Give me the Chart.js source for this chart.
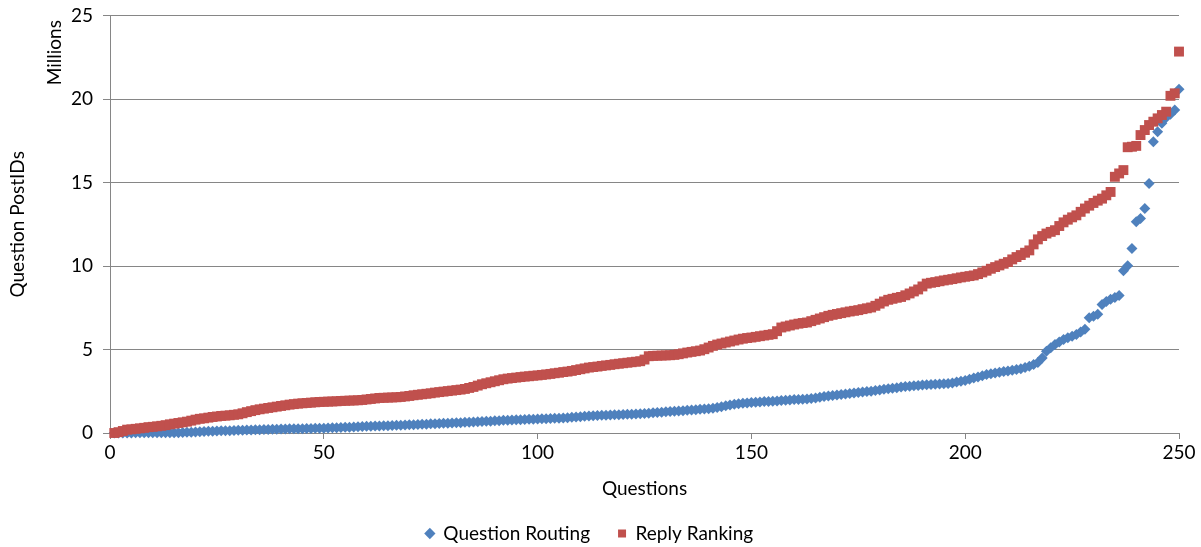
<!DOCTYPE html>
<html>
<head>
<meta charset="utf-8">
<script src="https://cdn.jsdelivr.net/npm/chart.js@4.4.1/dist/chart.umd.min.js"></script>
<style>
html, body { margin: 0; padding: 0; background: #fff; }
</style>
</head>
<body>
<canvas id="chart" width="1201" height="547"></canvas>
<script>
// question index runs 1..250, values in millions
const question_routing = [
    0.00, 0.00, 0.00, 0.00, 0.00, 0.01, 0.01, 0.01, 0.01, 0.01,
    0.01, 0.01, 0.02, 0.02, 0.02, 0.02, 0.03, 0.04, 0.05, 0.06,
    0.08, 0.09, 0.10, 0.11, 0.12, 0.13, 0.14, 0.14, 0.15, 0.16,
    0.17, 0.18, 0.18, 0.19, 0.20, 0.21, 0.21, 0.22, 0.23, 0.24,
    0.24, 0.25, 0.25, 0.26, 0.26, 0.27, 0.27, 0.28, 0.28, 0.29,
    0.30, 0.31, 0.32, 0.33, 0.34, 0.35, 0.36, 0.38, 0.39, 0.40,
    0.41, 0.42, 0.42, 0.43, 0.44, 0.45, 0.46, 0.47, 0.48, 0.49,
    0.50, 0.51, 0.52, 0.53, 0.55, 0.56, 0.57, 0.58, 0.59, 0.60,
    0.61, 0.62, 0.64, 0.65, 0.66, 0.67, 0.69, 0.70, 0.71, 0.73,
    0.74, 0.76, 0.77, 0.78, 0.79, 0.80, 0.81, 0.82, 0.83, 0.84,
    0.85, 0.86, 0.87, 0.88, 0.89, 0.90, 0.92, 0.94, 0.96, 0.98,
    1.00, 1.02, 1.03, 1.05, 1.06, 1.07, 1.08, 1.09, 1.10, 1.11,
    1.12, 1.13, 1.14, 1.15, 1.17, 1.19, 1.21, 1.23, 1.25, 1.27,
    1.29, 1.30, 1.32, 1.34, 1.36, 1.38, 1.40, 1.42, 1.44, 1.46,
    1.49, 1.53, 1.58, 1.63, 1.68, 1.72, 1.75, 1.78, 1.80, 1.82,
    1.84, 1.86, 1.88, 1.89, 1.90, 1.92, 1.94, 1.96, 1.98, 2.00,
    2.01, 2.02, 2.04, 2.07, 2.10, 2.14, 2.18, 2.21, 2.24, 2.27,
    2.30, 2.33, 2.36, 2.39, 2.42, 2.45, 2.48, 2.50, 2.54, 2.58,
    2.62, 2.65, 2.68, 2.71, 2.75, 2.78, 2.80, 2.83, 2.85, 2.88,
    2.89, 2.90, 2.92, 2.94, 2.95, 2.96, 3.00, 3.05, 3.10, 3.15,
    3.22, 3.29, 3.36, 3.43, 3.50, 3.55, 3.60, 3.64, 3.68, 3.72,
    3.76, 3.80, 3.85, 3.92, 4.00, 4.10, 4.22, 4.50, 4.90, 5.10,
    5.30, 5.45, 5.60, 5.70, 5.80, 5.90, 6.05, 6.22, 6.90, 7.00,
    7.12, 7.70, 7.88, 8.02, 8.12, 8.24, 9.72, 10.02, 11.05, 12.65,
    12.85, 13.45, 14.95, 17.45, 18.05, 18.55, 18.90, 19.10, 19.35, 20.60
];
const reply_ranking = [
    0.00, 0.05, 0.12, 0.20, 0.22, 0.25, 0.28, 0.31, 0.35, 0.37,
    0.40, 0.43, 0.47, 0.52, 0.56, 0.60, 0.64, 0.68, 0.74, 0.80,
    0.85, 0.88, 0.92, 0.96, 0.99, 1.02, 1.04, 1.06, 1.09, 1.12,
    1.18, 1.25, 1.31, 1.37, 1.42, 1.46, 1.50, 1.54, 1.58, 1.62,
    1.66, 1.70, 1.73, 1.76, 1.78, 1.80, 1.82, 1.84, 1.86, 1.87,
    1.88, 1.89, 1.90, 1.92, 1.93, 1.94, 1.95, 1.96, 1.98, 2.01,
    2.04, 2.07, 2.10, 2.11, 2.12, 2.13, 2.14, 2.16, 2.19, 2.22,
    2.26, 2.29, 2.32, 2.35, 2.38, 2.42, 2.45, 2.48, 2.51, 2.54,
    2.57, 2.60, 2.64, 2.70, 2.76, 2.84, 2.92, 2.98, 3.04, 3.10,
    3.16, 3.22, 3.26, 3.29, 3.32, 3.35, 3.38, 3.40, 3.43, 3.45,
    3.48, 3.51, 3.54, 3.58, 3.61, 3.65, 3.68, 3.72, 3.77, 3.82,
    3.87, 3.92, 3.95, 3.98, 4.02, 4.05, 4.08, 4.12, 4.15, 4.18,
    4.21, 4.24, 4.27, 4.30, 4.40, 4.60, 4.62, 4.63, 4.64, 4.65,
    4.66, 4.68, 4.72, 4.77, 4.82, 4.86, 4.90, 4.94, 5.02, 5.12,
    5.22, 5.30, 5.36, 5.42, 5.48, 5.54, 5.60, 5.65, 5.69, 5.72,
    5.76, 5.80, 5.84, 5.88, 5.92, 6.10, 6.32, 6.38, 6.44, 6.50,
    6.55, 6.59, 6.62, 6.70, 6.78, 6.86, 6.94, 7.02, 7.08, 7.13,
    7.18, 7.23, 7.28, 7.32, 7.36, 7.42, 7.47, 7.52, 7.62, 7.75,
    7.88, 7.98, 8.04, 8.10, 8.15, 8.25, 8.36, 8.48, 8.60, 8.78,
    8.95, 9.00, 9.04, 9.09, 9.14, 9.18, 9.22, 9.27, 9.32, 9.36,
    9.40, 9.44, 9.52, 9.62, 9.72, 9.84, 9.94, 10.04, 10.14, 10.24,
    10.40, 10.54, 10.66, 10.80, 10.94, 11.30, 11.60, 11.80, 11.95, 12.05,
    12.15, 12.40, 12.62, 12.78, 12.92, 13.04, 13.25, 13.45, 13.62, 13.78,
    13.92, 14.04, 14.24, 14.44, 15.35, 15.55, 15.75, 17.12, 17.15, 17.20,
    17.85, 18.15, 18.45, 18.65, 18.85, 19.05, 19.25, 20.20, 20.35, 22.85
];
const x_ticks = [0, 50, 100, 150, 200, 250];
const y_ticks = [0, 5, 10, 15, 20, 25];

const font_family = "Lato, 'Open Sans', sans-serif";
const font_size = 19;
const grey = "#868686";

function to_points(values) {
    return values.map((v, i) => ({ x: i + 1, y: v }));
}

// Excel-style "Millions" display-unit label next to the y axis
const millions_label = {
    id: 'millions_label',
    afterDraw(chart) {
        const ctx = chart.ctx;
        ctx.save();
        ctx.translate(55, chart.chartArea.top + 37);
        ctx.rotate(-Math.PI / 2);
        ctx.font = font_size + "px " + font_family;
        ctx.fillStyle = "#000";
        ctx.textAlign = "center";
        ctx.textBaseline = "middle";
        ctx.fillText("Millions", 0, 0);
        ctx.restore();
    }
};

new Chart(document.getElementById("chart"), {
    type: 'scatter',
    data: {
        datasets: [{
            label: "Question Routing",
            data: to_points(question_routing),
            pointStyle: 'rectRot',
            pointRadius: 5.5,
            pointHoverRadius: 5.5,
            backgroundColor: "#4F81BD",
            borderColor: "#4F81BD",
            borderWidth: 0,
            order: 1,
            clip: false
        }, {
            label: "Reply Ranking",
            data: to_points(reply_ranking),
            pointStyle: 'rect',
            pointRadius: 7,
            pointHoverRadius: 7,
            backgroundColor: "#C0504D",
            borderColor: "#C0504D",
            borderWidth: 0,
            order: 0,
            clip: false
        }]
    },
    options: {
        responsive: false,
        animation: false,
        layout: { padding: { top: 12, right: 22, left: 0, bottom: -6 } },
        scales: {
            x: {
                type: 'linear',
                min: 0,
                max: 250,
                afterBuildTicks: (scale) => { scale.ticks = x_ticks.map(v => ({ value: v })); },
                afterFit: (scale) => { scale.height = 63; },
                grid: { drawOnChartArea: false, drawTicks: true, tickLength: 6, color: grey },
                border: { display: true, color: grey },
                ticks: { padding: 2, color: "#000", font: { family: font_family, size: font_size } },
                title: {
                    display: true,
                    text: "Questions",
                    color: "#000",
                    font: { family: font_family, size: font_size },
                    padding: { top: 0, bottom: -4 }
                }
            },
            y: {
                min: 0,
                max: 25,
                afterBuildTicks: (scale) => { scale.ticks = y_ticks.map(v => ({ value: v })); },
                afterFit: (scale) => { scale.width = 110; },
                grid: { color: grey, tickLength: 7, drawTicks: true },
                border: { display: true, color: grey },
                ticks: { padding: 10, color: "#000", font: { family: font_family, size: font_size, lineHeight: 0.6 } },
                title: {
                    display: true,
                    text: "Question PostIDs",
                    color: "#000",
                    font: { family: font_family, size: font_size },
                    padding: { top: 6, bottom: 0 }
                }
            }
        },
        plugins: {
            tooltip: { enabled: false },
            legend: {
                position: 'bottom',
                labels: {
                    usePointStyle: true,
                    boxHeight: 8,
                    boxWidth: 8,
                    padding: 28,
                    color: "#000",
                    font: { family: font_family, size: font_size },
                    sort: (a, b) => a.datasetIndex - b.datasetIndex
                }
            }
        }
    },
    plugins: [millions_label]
});
</script>
</body>
</html>
